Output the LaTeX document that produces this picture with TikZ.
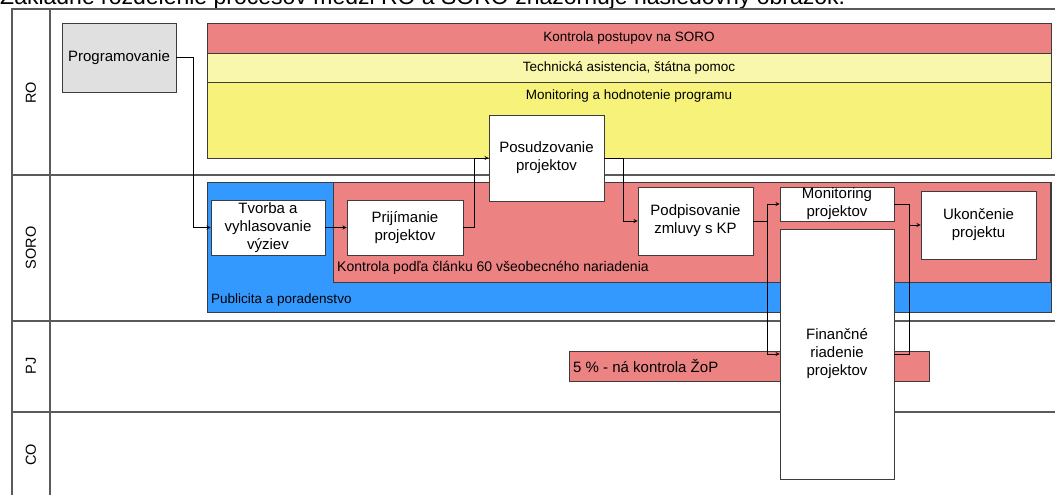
\documentclass[tikz,border=0pt]{standalone}
\usepackage{fontspec}
\setmainfont{Liberation Sans}
\usepackage{xcolor}
\usetikzlibrary{positioning}
\definecolor{redbar}{RGB}{236,130,130}
\definecolor{paleyel}{RGB}{249,247,172}
\definecolor{yelbar}{RGB}{247,242,122}
\definecolor{bluebar}{RGB}{51,153,255}
\definecolor{greybox}{RGB}{224,224,224}
\definecolor{edge}{RGB}{60,60,60}
\definecolor{frame}{RGB}{90,90,90}
\tikzset{proc/.style={rectangle,draw=edge,fill=white,line width=0.9pt,align=center,inner sep=0pt,font=\fontsize{15}{18}\selectfont}}
\tikzset{band/.style={rectangle,draw=edge,line width=0.9pt,inner sep=0pt,font=\fontsize{13.5}{15}\selectfont}}
\tikzset{lbl/.style={rotate=90,inner sep=0pt,font=\fontsize{14.5}{16}\selectfont}}
\tikzset{note/.style={anchor=west,inner sep=0pt,font=\fontsize{14}{16}\selectfont}}
\tikzset{lane/.style={frame,line width=1.2pt}}

\begin{document}
\begin{tikzpicture}[>=stealth,x=1pt,y=-1pt]
    \useasboundingbox (0,0) rectangle (1055,495);
    \node[anchor=base west,inner sep=0pt,font=\fontsize{23}{27}\selectfont] (t) at (0,5) {Základné rozdelenie procesov medzi RO a SORO znázorňuje nasledovný obrázok.};

    % pasy
    \draw[lane] (1055,9) -- (12,9) -- (12,495);
    \draw[lane] (50,9) -- (50,495);
    \foreach \y in {175,321,412} \draw[lane] (12,\y) -- (1055,\y);
    \node[lbl] (ro) at (31,93) {RO};
    \node[lbl] (soro) at (31,248) {SORO};
    \node[lbl] (pj) at (31,366) {PJ};
    \node[lbl] (co) at (31,455) {CO};

    % pozadia
    \node[band,fill=redbar,minimum width=844,minimum height=30] (kp) at (629,38) {Kontrola postupov na SORO};
    \node[band,fill=paleyel,minimum width=844,minimum height=29] (ta) at (629,67.5) {Technická asistencia, štátna pomoc};
    \node[band,fill=yelbar,minimum width=844,minimum height=76] (mh) at (629,120) {};
    \node[band,draw=none,anchor=north] (mht) at ([yshift=-8pt]mh.north) {Monitoring a hodnotenie programu};
    \node[band,fill=bluebar,minimum width=844,minimum height=130] (pub) at (629,247) {};
    \node[note,font=\fontsize{13.5}{16}\selectfont] (pubt) at (211,300) {Publicita a poradenstvo};
    \node[band,fill=redbar,minimum width=717,minimum height=100] (k60) at (691.5,232) {};
    \node[note] (k60t) at (337,268) {Kontrola podľa článku 60 všeobecného nariadenia};
    \node[band,fill=redbar,minimum width=360,minimum height=30] (zop) at (749,366) {};
    \node[note,font=\fontsize{15}{18}\selectfont] (zopt) at (573,366) {5 \% - ná kontrola ŽoP};

    % procesy
    \node[proc,fill=greybox,minimum width=114,minimum height=69] (prog) at (119,57.5) {Programovanie};
    \node[proc,minimum width=114,minimum height=55] (tvor) at (268,227.5) {Tvorba a\\vyhlasovanie\\výziev};
    \node[proc,minimum width=116,minimum height=55] (prij) at (405,227.5) {Prijímanie\\projektov};
    \node[proc,minimum width=115,minimum height=86] (posud) at (546.5,158) {Posudzovanie\\projektov};
    \node[proc,minimum width=115,minimum height=68] (podp) at (695.5,221) {Podpisovanie\\zmluvy s KP};
    \node[proc,minimum width=114,minimum height=34] (monp) at (837,204) {Monitoring\\projektov};
    \node[proc,minimum width=114,minimum height=250] (fin) at (837,354) {Finančné\\riadenie\\projektov};
    \node[proc,minimum width=115,minimum height=68] (ukon) at (978.5,225) {Ukončenie\\projektu};

    \draw [->,line width=0.8pt] (prog.east) -- ++(17,0) |- (tvor.west);
    \draw [->,line width=0.8pt] (tvor) -- (prij);
    \draw [->,line width=0.8pt] (prij.east) -- ++(11,0) |- (posud.west);
    \draw [->,line width=0.8pt] (posud.east) -- ++(19,0) |- (podp.west);
    \draw [->,line width=0.8pt] (podp.east) -- ++(14,0) coordinate (sp) |- (monp.west);
    \draw [->,line width=0.8pt] (sp) |- (fin.west);
    \draw [->,line width=0.8pt] (monp.east) -- ++(15,0) coordinate (jn) |- (ukon.west);
    \draw [line width=0.8pt] (fin.east) -| (jn);
\end{tikzpicture}
\end{document}
